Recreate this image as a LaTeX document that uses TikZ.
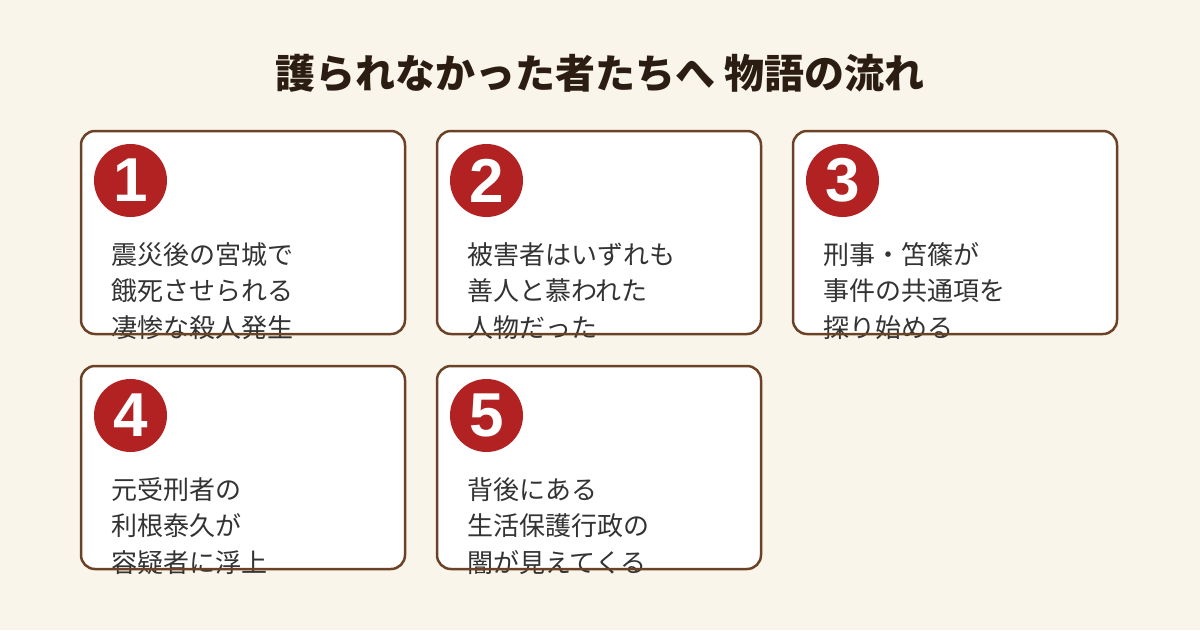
\documentclass[tikz,border=0pt]{standalone}
\usepackage{fontspec}
\setmainfont{Noto Sans CJK JP}
\newfontfamily\cjk{Noto Sans CJK JP}
\newfontfamily\digits{Liberation Sans}
\definecolor{bgc}{HTML}{FAF5EA}
\definecolor{brd}{HTML}{6B4226}
\definecolor{numred}{HTML}{B22222}
\definecolor{txt}{HTML}{333333}
\definecolor{ttl}{HTML}{2B1D12}
\tikzset{
  cardbox/.style={draw=brd, line width=2.5pt, rounded corners=14pt},
  cardfill/.style={fill=white, rounded corners=14pt},
  numdot/.style={circle, fill=numred, minimum size=73pt, inner sep=0pt, text=white, font=\digits\bfseries\fontsize{62}{62}\selectfont},
  cardtext/.style={anchor=north west, inner sep=0pt, align=left, text=txt, font=\cjk\fontsize{26}{36.5}\selectfont},
  titletext/.style={text=ttl, font=\cjk\bfseries\fontsize{40}{46}\selectfont}
}
\newcommand{\mycard}[5]{%
  % #1 name, #2 x, #3 y, #4 number, #5 text
  \fill[cardfill] (#2,#3) rectangle ++(324,203);
  \node[cardtext] (#1t) at (#2+30,#3+111) {#5};
  \draw[cardbox] (#2,#3) rectangle ++(324,203);
  \node[numdot] (#1n) at (#2+49.5,#3+49.5) {#4};
}
\begin{document}
\begin{tikzpicture}[x=1pt,y=-1pt]
\fill[bgc] (0,0) rectangle (1200,630);
\useasboundingbox (0,0) rectangle (1200,630);
\node[titletext] (title) at (600,73) {護られなかった者たちへ 物語の流れ};
\mycard{c1}{81}{131}{1}{震災後の宮城で\\餓死させられる\\凄惨な殺人発生}
\mycard{c2}{437}{131}{2}{被害者はいずれも\\善人と慕われた\\人物だった}
\mycard{c3}{793}{131}{3}{刑事・笘篠が\\事件の共通項を\\探り始める}
\mycard{c4}{81}{366}{4}{元受刑者の\\利根泰久が\\容疑者に浮上}
\mycard{c5}{437}{366}{5}{背後にある\\生活保護行政の\\闇が見えてくる}
\end{tikzpicture}
\end{document}
